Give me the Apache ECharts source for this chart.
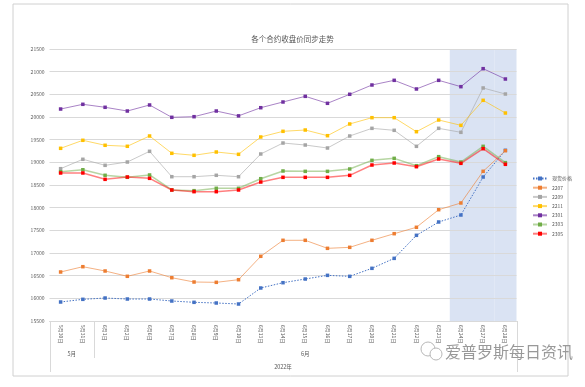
<!DOCTYPE html>
<html>
<head>
<meta charset="utf-8">
<script src="https://cdn.jsdelivr.net/npm/echarts@6/dist/echarts.min.js"></script>
<style>
html,body{margin:0;padding:0;background:#fff;}
#c{width:585px;height:387px;}
</style>
</head>
<body>
<div id="c"></div>
<script>
// ---- data ----
const titleText = '各个合约收盘价同步走势';
const dates = ['5月30日','5月31日','6月1日','6月2日','6月6日','6月7日','6月8日','6月9日','6月10日','6月13日','6月14日','6月15日','6月16日','6月17日','6月20日','6月21日','6月22日','6月23日','6月24日','6月27日','6月28日'];
const monthNames = ['5月','6月'];
const monthCounts = [2,19];
const yearLabel = '2022年';
const watermarkText = '爱普罗斯每日资讯';
const seriesNames = ['现货价格','2207','2209','2211','2301','2303','2305'];
const spot  = [15919,15978,16007,15985,15985,15941,15912,15897,15875,16228,16345,16426,16507,16485,16662,16882,17390,17684,17838,18676,19265];
const c2207 = [16581,16698,16603,16486,16603,16455,16360,16353,16411,16927,17280,17280,17103,17125,17280,17426,17567,17955,18103,18802,19257];
const c2209 = [18860,19067,18934,19007,19243,18683,18683,18714,18683,19184,19426,19382,19316,19581,19750,19706,19353,19750,19662,20640,20507];
const c2211 = [19309,19486,19376,19354,19581,19199,19155,19228,19177,19559,19684,19713,19588,19846,19985,19985,19676,19934,19816,20368,20088];
const c2301 = [20176,20280,20214,20132,20265,19993,20007,20132,20025,20205,20331,20456,20302,20501,20706,20809,20618,20809,20669,21066,20838];
const c2303 = [18793,18837,18714,18670,18721,18390,18375,18427,18427,18639,18809,18801,18801,18853,19044,19088,18926,19125,19007,19353,18993];
const c2305 = [18765,18765,18625,18676,18647,18390,18353,18353,18390,18566,18669,18669,18669,18713,18941,18985,18904,19074,18978,19301,18956];
const highlightBand = [null,null,null,null,null,null,null,null,null,null,null,null,null,null,null,null,null,null,21500,21500,21500];
const yMin = 15500, yMax = 21500, yStep = 500;

// ---- chart ----
const font = "'Noto Sans CJK SC', 'Noto Sans', sans-serif";
const txt = '#595959';
const colors = ['#4472C4','#ED7D31','#A5A5A5','#FFC000','#7030A0','#70AD47','#FF0000'];
const values = [spot,c2207,c2209,c2211,c2301,c2303,c2305];

const chart = echarts.init(document.getElementById('c'), null, {renderer:'canvas'});

const lineSeries = seriesNames.map((n,i)=>({
  name:n, type:'line', data: values[i],
  symbol:'rect', symbolSize:3.5, showSymbol:true,
  itemStyle:{color:colors[i]},
  lineStyle: i===0 ? {color:colors[i], width:1, type:[1.5,1.5]} :
    {color:colors[i], width:(i>=5?1.5:1), opacity:(i>=5?0.5:0.6)},
  z:3
}));

const option = {
  backgroundColor:'#fff',
  animation:false,
  textStyle:{fontFamily:font},
  title:{text:titleText, left:'center', top:30, textStyle:{fontSize:7.5, fontWeight:'normal', color:txt, fontFamily:font}},
  legend:{
    orient:'vertical', left:527, top:171,
    data:seriesNames, itemWidth:14, itemHeight:5, itemGap:4.2,
    textStyle:{fontSize:5, color:txt, fontFamily:font}
  },
  grid:{left:49.5, right:68.5, top:49, bottom:66, containLabel:false},
  xAxis:{
    type:'category', data:dates, boundaryGap:true,
    axisLine:{lineStyle:{color:'#d9d9d9'}},
    axisTick:{show:false},
    axisLabel:{rotate:-90, fontSize:5, color:txt, margin:4, fontFamily:font, interval:0}
  },
  yAxis:{
    type:'value', min:yMin, max:yMax, interval:yStep,
    axisLine:{show:false}, axisTick:{show:false},
    axisLabel:{fontSize:5, color:txt, margin:5, fontFamily:font, formatter:v=>String(v)},
    splitLine:{lineStyle:{color:'#d9d9d9', width:1}}
  },
  series:[
    {name:'band', type:'bar', data:highlightBand, barWidth:'100%', barGap:'-100%', z:-1,
     itemStyle:{color:'#dae3f3'}, silent:true, legendHoverLink:false}
  ].concat(lineSeries)
};
chart.setOption(option);

// multi-level axis decorations via library scales
const xc = i => chart.convertToPixel({xAxisIndex:0}, dates[i]);
const bw = xc(1) - xc(0);
const edge = i => xc(0) + (i - 0.5) * bw;
const yb = chart.convertToPixel({yAxisIndex:0}, yMin);
const g = [];
g.push({type:'rect', shape:{x:13, y:4, width:555, height:372}, style:{fill:null, stroke:'#d0d0d0', lineWidth:1}, z:0, silent:true});
let start = 0;
const bounds = [0];
monthNames.forEach((m,k)=>{
  const end = start + monthCounts[k];
  const cx = (edge(start) + edge(end)) / 2;
  g.push({type:'text', x:cx, y:yb+33, style:{text:m, fontSize:5.5, fill:txt, fontFamily:font, textAlign:'center', textVerticalAlign:'middle'}});
  bounds.push(end);
  start = end;
});
bounds.forEach((b,k)=>{
  const outer = (k===0 || k===bounds.length-1);
  g.push({type:'line', shape:{x1:Math.round(edge(b))+0.5, y1:yb, x2:Math.round(edge(b))+0.5, y2:yb+(outer?51:37)}, style:{stroke:'#d9d9d9', lineWidth:1}});
});
g.push({type:'text', x:(edge(0)+edge(dates.length))/2, y:yb+46, style:{text:yearLabel, fontSize:5.5, fill:txt, fontFamily:font, textAlign:'center', textVerticalAlign:'middle'}});
// watermark overlay from the source image
g.push({type:'circle', shape:{cx:428, cy:349, r:7}, style:{fill:null, stroke:'#b8b8b8', lineWidth:1}, z:10});
g.push({type:'circle', shape:{cx:436, cy:354, r:6}, style:{fill:'#fff', stroke:'#b8b8b8', lineWidth:1}, z:10});
g.push({type:'text', x:445, y:352, style:{text:watermarkText, fontSize:16, fill:'#999999', fontFamily:font, textAlign:'left', textVerticalAlign:'middle'}, z:10});
chart.setOption({graphic:g});
</script>
</body>
</html>
